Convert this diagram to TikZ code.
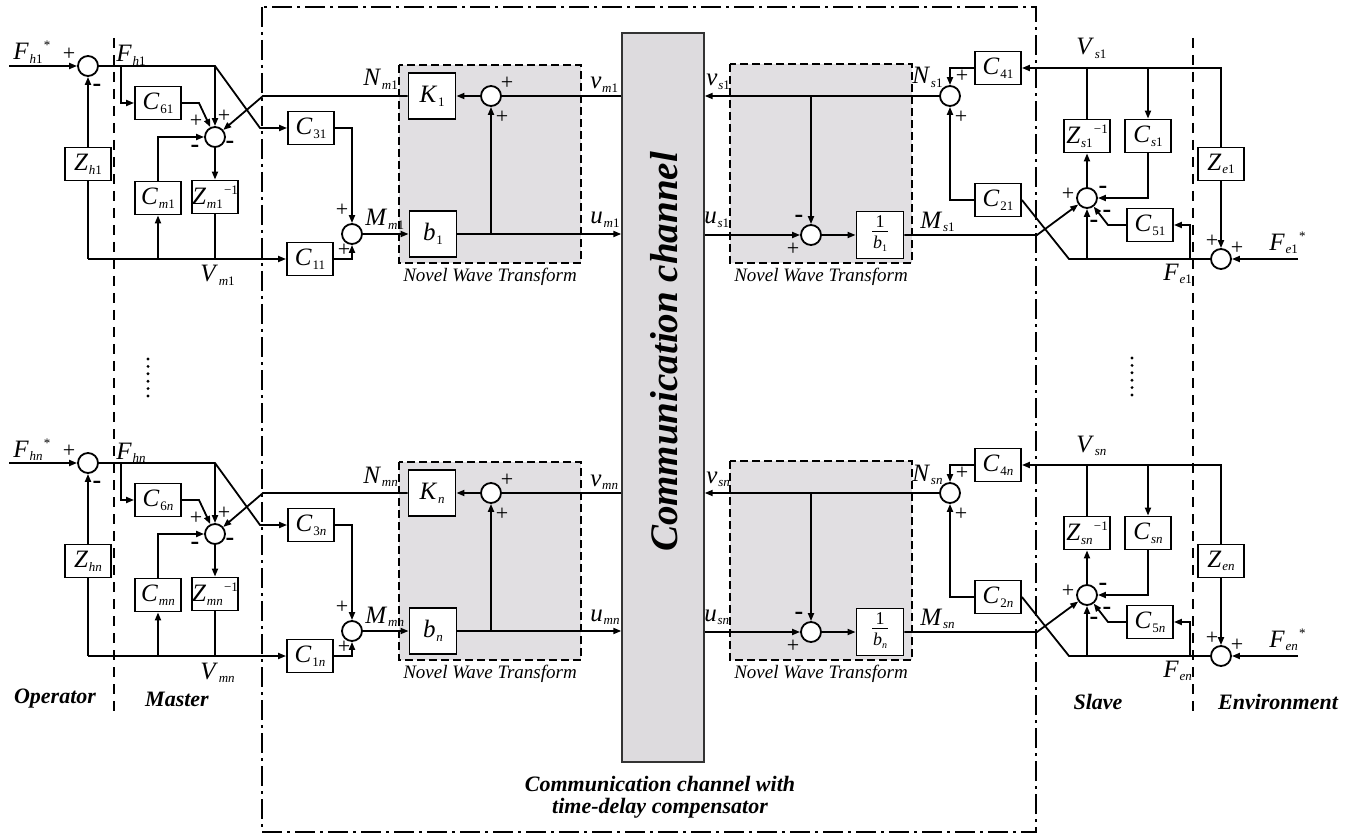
\documentclass[tikz,border=0pt]{standalone}
\usepackage{fontspec}
\setmainfont{Liberation Serif}
\usetikzlibrary{arrows.meta}
\definecolor{chgray}{RGB}{221,219,222}
\definecolor{nwtgray}{RGB}{225,223,226}
\newcommand{\subf}{\fontsize{6.5}{6.5}\selectfont}
\newcommand{\lsub}[2]{\textit{#1}\kern0.03em\raisebox{-0.15em}{\subf #2}}
\newcommand{\lsubsup}[3]{\textit{#1}\kern0.03em\raisebox{-0.15em}{\subf #2}\kern0.05em\raisebox{0.4em}{\subf #3}}
\begin{document}
\begin{tikzpicture}[x=0.5pt,y=-0.5pt,
  wire/.style={line width=0.9pt},
  arr/.style={line width=0.9pt,-{Triangle[length=4pt,width=3pt]}},
  blk/.style={draw,fill=white,line width=0.9pt,minimum width=23pt,minimum height=16.5pt,inner sep=0pt,font=\fontsize{12.5}{12.5}\selectfont},
  bigblk/.style={blk,minimum width=23.5pt,minimum height=23pt},
  sumc/.style={draw,circle,fill=white,line width=0.9pt,minimum size=10pt,inner sep=0pt},
  lbl/.style={inner sep=0pt,anchor=base west,font=\fontsize{12.5}{12.5}\selectfont},
  sgnp/.style={inner sep=0pt,font=\fontsize{11}{11}\selectfont},
  sgnm/.style={inner sep=0pt,yshift=-1.5pt,font=\fontsize{13}{13}\selectfont\bfseries},
  regionlbl/.style={inner sep=0pt,font=\fontsize{11}{11}\selectfont\bfseries\itshape},
  nwt/.style={fill=nwtgray,line width=0.8pt,dash pattern=on 4pt off 2pt},
  nwtlbl/.style={inner sep=0pt,font=\fontsize{9.5}{9.5}\selectfont\itshape}]
\useasboundingbox (0,0) rectangle (1357,840);

% communication channel
\node[draw=black!80,fill=chgray,line width=0.7pt,minimum width=41pt,minimum height=364.5pt,inner sep=0pt] (ch) at (663,397.5) {};
\node[rotate=90,inner sep=0pt,font=\fontsize{19.5}{19.5}\selectfont\bfseries\itshape] (cctext) at (664,352) {Communication channel};

\foreach \dy/\ix/\rw in {0/1/a,397/{\textit{n}}/b}{
\begin{scope}[shift={(0,\dy)}]
% NWT regions
\draw[nwt] (399,65) rectangle (581,263);
\draw[nwt] (730,64) rectangle (912,263);
\node[nwtlbl] (nwtl\rw) at (490,277) {Novel Wave Transform};
\node[nwtlbl] (nwtr\rw) at (821,277) {Novel Wave Transform};
% operator
\node[sumc] (s1\rw) at (88,66) {};
\node[blk] (zh\rw) at (88,164) {\lsub{Z}{\textit{h}\ix}};
% master
\node[blk] (c6\rw) at (158,103) {\lsub{C}{6\ix}};
\node[sumc] (s2\rw) at (215,137) {};
\node[blk] (cm\rw) at (158,198) {\lsub{C}{\textit{m}\ix}};
\node[blk] (zm\rw) at (215,197) {\lsubsup{Z}{\textit{m}\ix}{−1}};
% compensator, master side
\node[blk] (c3\rw) at (311,128) {\lsub{C}{3\ix}};
\node[blk] (c1\rw) at (310,259) {\lsub{C}{1\ix}};
\node[sumc] (s4\rw) at (352,234) {};
\node[bigblk] (k\rw) at (432,96) {\lsub{K}{\ix}};
\node[bigblk] (b\rw) at (433,234) {\lsub{b}{\ix}};
\node[sumc] (s3\rw) at (491,96) {};
% compensator, slave side
\node[sumc] (s5\rw) at (811,235) {};
\node[bigblk,minimum height=23.5pt] (ib\rw) at (880,235) {};
\node[inner sep=0pt,font=\fontsize{9}{9}\selectfont] (ibn\rw) at (880,222) {1};
\draw[line width=0.4pt] (872,231.5) -- (888,231.5);
\node[inner sep=0pt,font=\fontsize{9}{9}\selectfont] (ibd\rw) at (880,244) {\textit{b}\raisebox{-0.15em}{\fontsize{5}{5}\selectfont\ix}};
\node[sumc] (s6\rw) at (950,96) {};
\node[blk] (c4\rw) at (998,68) {\lsub{C}{4\ix}};
\node[blk] (c2\rw) at (998,200) {\lsub{C}{2\ix}};
% slave
\node[sumc] (s7\rw) at (1087,198) {};
\node[blk] (zs\rw) at (1087,136) {\lsubsup{Z}{\textit{s}\ix}{−1}};
\node[blk] (cs\rw) at (1148,136) {\lsub{C}{\textit{s}\ix}};
\node[blk] (c5\rw) at (1150,225) {\lsub{C}{5\ix}};
% environment
\node[blk] (ze\rw) at (1221,164) {\lsub{Z}{\textit{e}\ix}};
\node[sumc] (se\rw) at (1221,259) {};
\coordinate (fin\rw) at (9,66);
\coordinate (fein\rw) at (1298,259);
\coordinate (fe\rw) at (1190,259);
% wires: operator and master
\draw[arr] (fin\rw) -- (s1\rw.west);
\draw[arr] (s1\rw.east) -- (215,66) -- (260,128) -- (c3\rw.west);
\draw[arr] (121,66) |- (c6\rw.west);
\draw[arr] (215,66) -- (s2\rw.north);
\draw[arr] (c6\rw.east) -- (199,103) -- (s2\rw);
\draw[arr] (k\rw.west) -- (263,96) -- (s2\rw);
\draw[arr] (cm\rw.north) |- (s2\rw.west);
\draw[arr] (s2\rw.south) -- (zm\rw.north);
\draw[wire] (zm\rw.south) -- (zm\rw.south |- c1\rw.west);
\draw[wire] (zh\rw.south) -- (zh\rw.south |- c1\rw.west);
\draw[arr] (zh\rw.south |- c1\rw.west) -- (c1\rw.west);
\draw[arr] (zh\rw.north) -- (s1\rw.south);
\draw[arr] (cm\rw.south |- c1\rw.west) -- (cm\rw.south);
% wires: compensator
\draw[arr] (c3\rw.east) -| (s4\rw.north);
\draw[arr] (c1\rw.east) -| (s4\rw.south);
\draw[arr] (s4\rw.east) -- (b\rw.west);
\draw[arr] (b\rw.east) -- (b\rw.east -| ch.west);
\draw[arr] (s3\rw |- b\rw.east) -- (s3\rw.south);
\draw[wire] (s3\rw.east -| ch.west) -- (s3\rw.east);
\draw[arr] (s3\rw.west) -- (k\rw.east);
\draw[arr] (s6\rw.west) -- (s6\rw.west -| ch.east);
\draw[arr] (s5\rw |- s6\rw.west) -- (s5\rw.north);
\draw[arr] (s5\rw.west -| ch.east) -- (s5\rw.west);
\draw[arr] (s5\rw.east) -- (ib\rw.west);
\draw[arr] (ib\rw.east) -- (1037,235) -- (s7\rw);
\draw[arr] (c4\rw.west) -| (s6\rw.north);
\draw[arr] (c2\rw.west) -| (s6\rw.south);
% wires: slave and environment
\draw[arr] (ze\rw.north) |- (c4\rw.east);
\draw[wire] (zs\rw.north) -- (zs\rw.north |- c4\rw.east);
\draw[arr] (cs\rw.north |- c4\rw.east) -- (cs\rw.north);
\draw[arr] (s7\rw.north) -- (zs\rw.south);
\draw[arr] (cs\rw.south) |- (s7\rw.east);
\draw[arr] (fe\rw) |- (c5\rw.east);
\draw[arr] (c5\rw.west) -- (1108,225) -- (s7\rw);
\draw[wire] (se\rw.west) -- (1069,259) -- (c2\rw.east);
\draw[arr] (s7\rw |- se\rw.west) -- (s7\rw.south);
\draw[arr] (ze\rw.south) -- (se\rw.north);
\draw[arr] (fein\rw) -- (se\rw.east);
% signal labels
\node[lbl] at (13,60) {\lsubsup{F}{\textit{h}\ix}{*}};
\node[lbl] at (116,62) {\lsub{F}{\textit{h}\ix}};
\node[lbl] at (200,282) {\lsub{V}{\textit{m}\ix}};
\node[lbl] at (363,86) {\lsub{N}{\textit{m}\ix}};
\node[lbl] at (590,89) {\lsub{v}{\textit{m}\ix}};
\node[lbl] at (365,226) {\lsub{M}{\textit{m}\ix}};
\node[lbl] at (590,224) {\lsub{u}{\textit{m}\ix}};
\node[lbl] at (706,86) {\lsub{v}{\textit{s}\ix}};
\node[lbl] at (912,84) {\lsub{N}{\textit{s}\ix}};
\node[lbl] at (704,224) {\lsub{u}{\textit{s}\ix}};
\node[lbl] at (920,228) {\lsub{M}{\textit{s}\ix}};
\node[lbl] at (1076,55) {\lsub{V}{\textit{s}\ix}};
\node[lbl] at (1163,280) {\lsub{F}{\textit{e}\ix}};
\node[lbl] at (1269,250) {\lsubsup{F}{\textit{e}\ix}{*}};
% signs
\node[sgnp] at (69,54) {+}; \node[sgnm] at (97,85) {-};
\node[sgnp] at (196,121) {+}; \node[sgnp] at (224,116) {+};
\node[sgnm] at (195,146) {-}; \node[sgnm] at (230,142) {-};
\node[sgnp] at (342,210) {+}; \node[sgnp] at (344,250) {+};
\node[sgnp] at (507,83) {+}; \node[sgnp] at (502,117) {+};
\node[sgnm] at (799,216) {-}; \node[sgnp] at (793,249) {+};
\node[sgnp] at (962,76) {+}; \node[sgnp] at (961,117) {+};
\node[sgnp] at (1068,194) {+}; \node[sgnm] at (1103,187) {-};
\node[sgnm] at (1107,211) {-}; \node[sgnm] at (1094,221) {-};
\node[sgnp] at (1212,241) {+}; \node[sgnp] at (1237,248) {+};
\end{scope}
}

% dots
\foreach \k in {0,...,5}{
  \fill (148,359+7.4*\k) circle (0.8pt);
  \fill (1132,358+7.4*\k) circle (0.8pt);
}

% boundaries
\draw[line width=1.4pt,dash pattern=on 10pt off 2.5pt on 1.5pt off 2.5pt] (262,7) rectangle (1036,832);
\draw[line width=0.8pt,dash pattern=on 5pt off 3.5pt] (114,38) -- (114,712);
\draw[line width=0.8pt,dash pattern=on 5pt off 3.5pt] (1193,38) -- (1193,715);

% region labels
\node[regionlbl] (op) at (55,699) {Operator};
\node[regionlbl] (ma) at (177,699) {Master};
\node[regionlbl] (sl) at (1098,702) {Slave};
\node[regionlbl] (en) at (1278,702) {Environment};
\node[regionlbl] (cc1) at (660,784) {Communication channel with};
\node[regionlbl] (cc2) at (660,808) {time-delay compensator};
\end{tikzpicture}
\end{document}
